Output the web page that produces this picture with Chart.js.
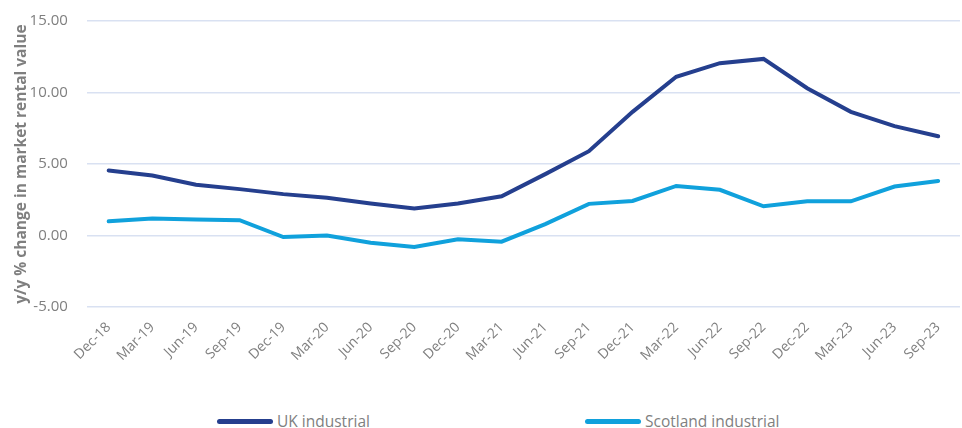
<!DOCTYPE html>
<html>
<head>
<meta charset="utf-8">
<script src="https://cdn.jsdelivr.net/npm/chart.js@4/dist/chart.umd.min.js"></script>
<style>
  html, body { margin: 0; padding: 0; background: #fff; overflow: hidden; }
  #wrap { width: 962px; height: 375px; position: absolute; top: -7px; left: 0; }
  #legend { position: absolute; top: 410px; left: 0; width: 962px; height: 20px;
    font-family: "Open Sans", sans-serif; font-size: 15.5px; color: #7f7f7f; }
  #legend span.item { position: absolute; top: 0; white-space: nowrap; }
  #legend span.swatch { display: inline-block; width: 56px; height: 5px; border-radius: 3px;
    vertical-align: middle; margin-right: 4px; position: relative; top: -1px; }
</style>
</head>
<body>
<div id="wrap"><canvas id="chart"></canvas></div>
<div id="legend"></div>
<script>
const labels = ["Dec-18", "Mar-19", "Jun-19", "Sep-19", "Dec-19", "Mar-20", "Jun-20", "Sep-20", "Dec-20", "Mar-21",
    "Jun-21", "Sep-21", "Dec-21", "Mar-22", "Jun-22", "Sep-22", "Dec-22", "Mar-23", "Jun-23", "Sep-23"];
const ukIndustrial = [4.55, 4.2, 3.55, 3.25, 2.9, 2.65, 2.25, 1.9, 2.25, 2.75,
    4.3, 5.9, 8.65, 11.1, 12.05, 12.35, 10.3, 8.65, 7.65, 6.95];
const scotlandIndustrial = [1.0, 1.2, 1.12, 1.08, -0.1, 0.0, -0.5, -0.8, -0.25, -0.42,
    0.8, 2.22, 2.42, 3.47, 3.2, 2.05, 2.4, 2.4, 3.43, 3.82];

const tickGrey = "#7f7f7f";

const chart = new Chart(document.getElementById("chart"), {
    type: "line",
    data: {
        labels: labels,
        datasets: [
            {
                label: "UK industrial",
                data: ukIndustrial,
                borderColor: "#253f8e",
                backgroundColor: "#253f8e",
                borderWidth: 4,
                pointRadius: 0,
                borderCapStyle: "round",
                tension: 0,
            },
            {
                label: "Scotland industrial",
                data: scotlandIndustrial,
                borderColor: "#10a1dc",
                backgroundColor: "#10a1dc",
                borderWidth: 4,
                pointRadius: 0,
                borderCapStyle: "round",
                tension: 0,
            },
        ],
    },
    options: {
        responsive: true,
        maintainAspectRatio: false,
        animation: false,
        layout: { padding: { top: 4, right: 2, left: 12, bottom: 0 } },
        plugins: {
            tooltip: { enabled: false },
            legend: { display: false },
        },
        scales: {
            x: {
                offset: true,
                grid: { display: false },
                border: { display: false },
                ticks: {
                    color: tickGrey,
                    minRotation: 45,
                    maxRotation: 45,
                    padding: 4,
                    font: { family: "Open Sans", size: 14 },
                },
            },
            y: {
                min: -5,
                max: 15,
                grid: { color: "#d9e1f2", lineWidth: 1.5, drawTicks: false },
                border: { display: false },
                ticks: {
                    stepSize: 5,
                    padding: 19,
                    color: tickGrey,
                    font: { family: "Open Sans", size: 15 },
                    callback: (v) => v.toFixed(2),
                },
                title: {
                    display: true,
                    text: "y/y % change in market rental value",
                    color: tickGrey,
                    padding: { top: 0, bottom: -20 },
                    font: { family: "Open Sans", size: 15.5, weight: "bold" },
                },
            },
        },
    },
});

// HTML legend placed like the original (wide gap between items)
const legendPos = [217, 585];
const legendEl = document.getElementById("legend");
chart.data.datasets.forEach((ds, i) => {
    const item = document.createElement("span");
    item.className = "item";
    item.style.left = legendPos[i] + "px";
    const sw = document.createElement("span");
    sw.className = "swatch";
    sw.style.background = ds.borderColor;
    item.appendChild(sw);
    item.appendChild(document.createTextNode(ds.label));
    legendEl.appendChild(item);
});
</script>
</body>
</html>
